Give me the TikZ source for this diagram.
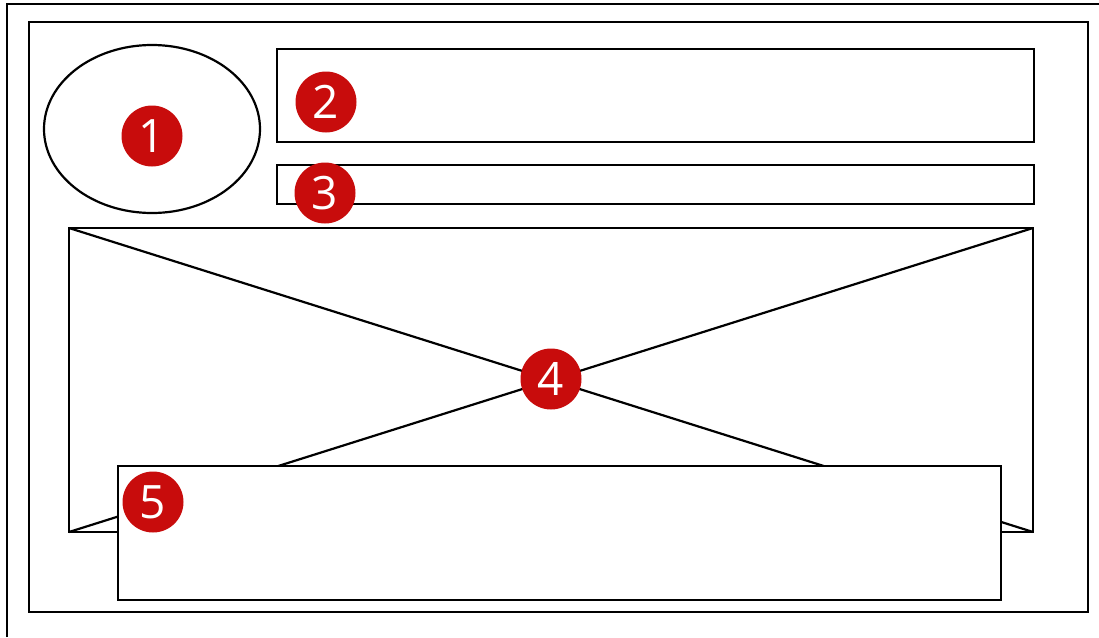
\documentclass[tikz,border=0pt]{standalone}
\usepackage{fontspec}
\setmainfont{Open Sans}
\usetikzlibrary{shapes.geometric}
\definecolor{badgered}{HTML}{C80C0C}
\begin{document}
\begin{tikzpicture}[x=1pt,y=-1pt,
  frame/.style={draw=black,line width=2.2pt},
  part/.style={draw=black,line width=2.2pt},
  badge/.style={circle,fill=badgered,minimum size=61pt,inner sep=0pt,text=white,font=\fontsize{46}{46}\selectfont}]
\useasboundingbox (0,0) rectangle (1099,637);
\fill[white] (0,0) rectangle (1099,637);
% outer frame (cropped)
\coordinate (ofb) at (7,637);
\coordinate (oft) at (7,4);
\coordinate (ofr) at (1099,4);
\draw[frame] (ofb) -- (oft) -- (ofr);
% inner frame
\coordinate (if1) at (29,22);
\coordinate (if2) at (1088,612);
\draw[frame] (if1) rectangle (if2);
% avatar ellipse
\node[part,ellipse,minimum width=216pt,minimum height=168pt,inner sep=0pt] (avatar) at (152,129) {};
% title box
\coordinate (t1) at (277,49); \coordinate (t2) at (1034,142);
\draw[part] (t1) rectangle (t2);
% subtitle box
\coordinate (s1) at (277,165); \coordinate (s2) at (1034,204);
\draw[part] (s1) rectangle (s2);
% image placeholder
\coordinate (inw) at (69,228); \coordinate (ine) at (1033,228);
\coordinate (isw) at (69,532); \coordinate (ise) at (1033,532);
\draw[part] (inw) rectangle (ise);
\draw[part] (inw) -- (ise);
\draw[part] (ine) -- (isw);
% text box overlay
\coordinate (x1) at (118,466); \coordinate (x2) at (1001,600);
\draw[part,fill=white] (x1) rectangle (x2);
% badges
\node[badge] (b1) at (152,136) {1};
\node[badge] (b2) at (326,102) {2};
\node[badge] (b3) at (325,193) {3};
\node[badge] (b4) at (551,379) {4};
\node[badge] (b5) at (153,502) {5};
\end{tikzpicture}
\end{document}
